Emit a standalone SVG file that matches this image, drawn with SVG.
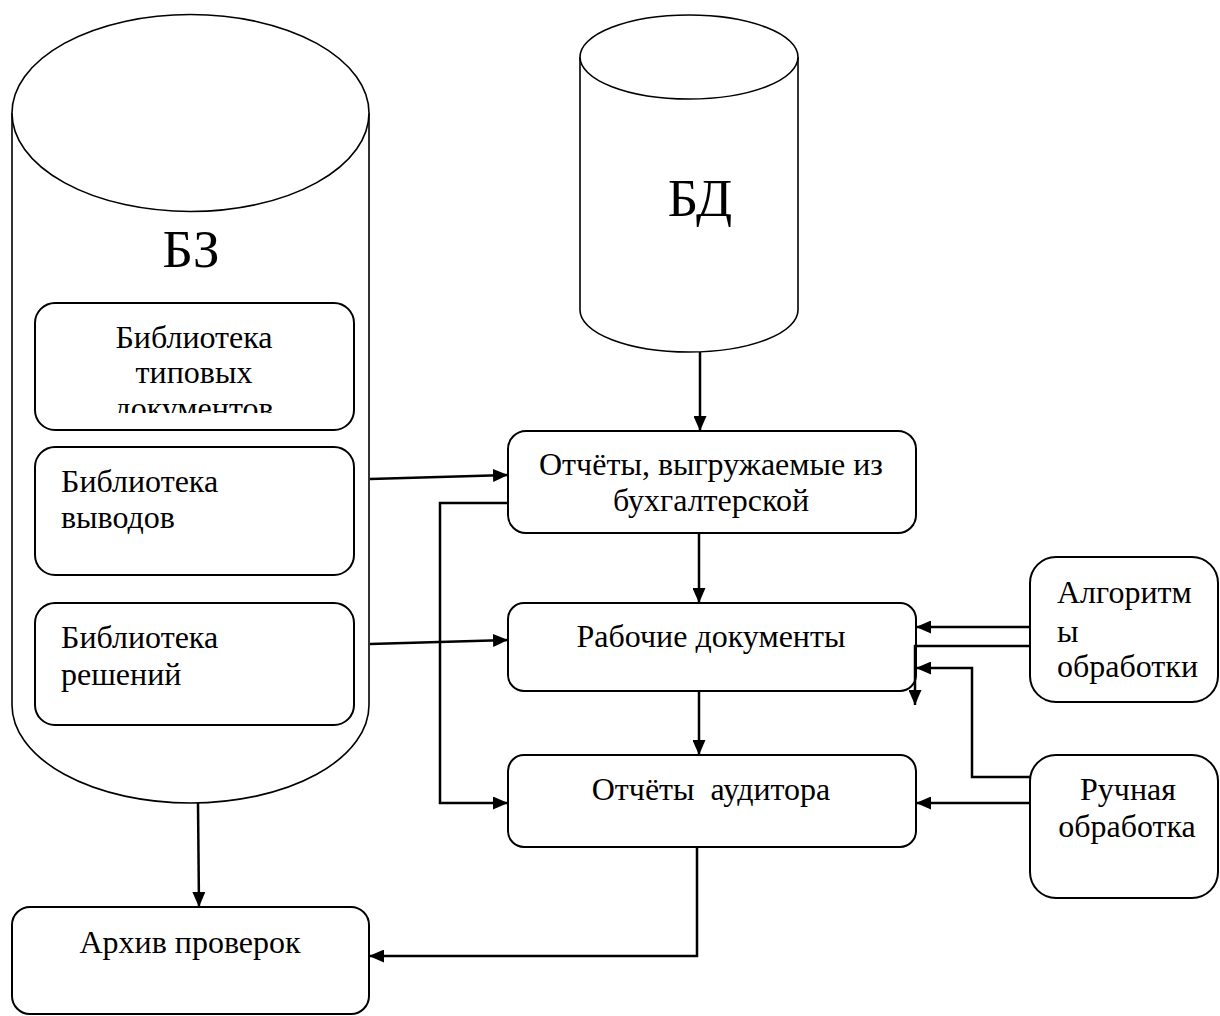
<svg xmlns="http://www.w3.org/2000/svg" width="1220" height="1016" viewBox="0 0 1220 1016">
<style>
.shape{fill:#fff;stroke:#000;stroke-width:2}
.cyl{fill:#fff;stroke:#000;stroke-width:1.6}
.t{font-family:"Liberation Serif","Times New Roman",serif;font-size:32px;fill:#000}
.big{font-family:"Liberation Serif","Times New Roman",serif;font-size:53px;fill:#000}
.c{text-anchor:middle}
.ln{fill:none;stroke:#000;stroke-width:2.5}
</style>
<defs>
<marker id="ah" viewBox="0 0 15 13" refX="15" refY="6.5" markerWidth="15" markerHeight="13" markerUnits="userSpaceOnUse" orient="auto">
<path d="M0,0 L15,6.5 L0,13 z" fill="#000"/>
</marker>
<clipPath id="clip1"><rect x="35" y="303" width="319" height="110"/></clipPath>
</defs>
<rect width="1220" height="1016" fill="#fff"/>

<g id="bz">
<path class="cyl" d="M12,113 L12,705 A178.5,98 0 0 0 369,705 L369,113"/>
<ellipse class="cyl" cx="190.5" cy="113" rx="178.5" ry="98.5"/>
<text class="big c" x="191" y="267">БЗ</text>
</g>

<g id="lib1">
<rect class="shape" x="35" y="303" width="319" height="127" rx="20"/>
<g clip-path="url(#clip1)">
<text class="t c" x="194" y="348">Библиотека</text>
<text class="t c" x="194" y="383">типовых</text>
<text class="t c" x="194" y="419">документов</text>
</g>
</g>

<g id="lib2">
<rect class="shape" x="35" y="447" width="319" height="128" rx="20"/>
<text class="t" x="61" y="492">Библиотека</text>
<text class="t" x="61" y="528">выводов</text>
</g>

<g id="lib3">
<rect class="shape" x="35" y="603" width="319" height="122" rx="20"/>
<text class="t" x="61" y="648">Библиотека</text>
<text class="t" x="61" y="685">решений</text>
</g>

<g id="bd">
<path class="cyl" d="M580,57 L580,310 A109,42 0 0 0 798,310 L798,57"/>
<ellipse class="cyl" cx="689" cy="57" rx="109" ry="42"/>
<text class="big c" x="700" y="216">БД</text>
</g>

<g id="reports">
<rect class="shape" x="508" y="431" width="408" height="102" rx="18"/>
<text class="t c" x="711" y="475">Отчёты, выгружаемые из</text>
<text class="t c" x="711" y="511">бухгалтерской</text>
</g>

<g id="work">
<rect class="shape" x="508" y="603" width="408" height="88" rx="16"/>
<text class="t c" x="711" y="647">Рабочие документы</text>
</g>

<g id="audit">
<rect class="shape" x="508" y="755" width="408" height="92" rx="16"/>
<text class="t c" x="711" y="800" xml:space="preserve">Отчёты  аудитора</text>
</g>

<g id="algo">
<rect class="shape" x="1030" y="557" width="188" height="145" rx="26"/>
<text class="t" x="1057" y="603">Алгоритм</text>
<text class="t" x="1057" y="642">ы</text>
<text class="t" x="1057" y="677">обработки</text>
</g>

<g id="manual">
<rect class="shape" x="1030" y="755" width="188" height="143" rx="26"/>
<text class="t c" x="1128" y="800">Ручная</text>
<text class="t c" x="1127" y="837">обработка</text>
</g>

<g id="archive">
<rect class="shape" x="12" y="907" width="357" height="107" rx="18"/>
<text class="t c" x="190" y="953">Архив проверок</text>
</g>

<g id="connectors">
<path class="ln" d="M700,352 L700,431" marker-end="url(#ah)"/>
<path class="ln" d="M370,479 L508,475" marker-end="url(#ah)"/>
<path class="ln" d="M370,644 L508,640" marker-end="url(#ah)"/>
<path class="ln" d="M508,503 L440,503 L440,803 L508,803" marker-end="url(#ah)"/>
<path class="ln" d="M699,533 L699,603" marker-end="url(#ah)"/>
<path class="ln" d="M699,691 L699,755" marker-end="url(#ah)"/>
<path class="ln" d="M1030,627 L916,627" marker-end="url(#ah)"/>
<path class="ln" d="M1030,646 L915,646 L915,705" marker-end="url(#ah)"/>
<path class="ln" d="M1030,777 L972,777 L972,668 L916,668" marker-end="url(#ah)"/>
<path class="ln" d="M1030,803 L916,803" marker-end="url(#ah)"/>
<path class="ln" d="M198,803 L199,907" marker-end="url(#ah)"/>
<path class="ln" d="M697,847 L697,956 L369,956" marker-end="url(#ah)"/>
</g>
</svg>
